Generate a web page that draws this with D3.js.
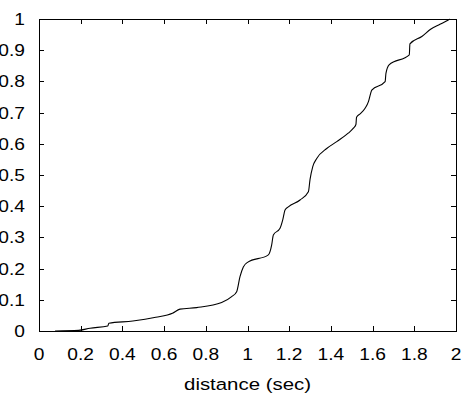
<!DOCTYPE html>
<html><head><meta charset="utf-8">
<script src="https://cdn.jsdelivr.net/npm/d3@7"></script>
<style>
html,body{margin:0;padding:0;background:#fff;}
text{font-family:"Liberation Sans",Arial,Helvetica,sans-serif;font-size:17px;fill:#000;}
</style></head>
<body>
<svg id="c" width="468" height="394"></svg>
<script>
const distance = [0.077,0.19,0.245,0.33,0.335,0.45,0.56,0.64,0.676,0.756,0.876,0.924,0.948,0.964,0.98,1.0,1.1,1.116,1.124,1.156,1.169,1.18,1.196,1.252,1.292,1.3,1.313,1.332,1.38,1.428,1.483,1.508,1.52,1.523,1.54,1.564,1.58,1.59,1.596,1.66,1.664,1.679,1.776,1.779,1.836,1.88,1.923,1.963,1.97];
const fraction = [0,0.002,0.009,0.016,0.025,0.032,0.044,0.057,0.07,0.075,0.091,0.11,0.126,0.174,0.205,0.22,0.244,0.276,0.308,0.329,0.356,0.388,0.398,0.42,0.446,0.486,0.527,0.553,0.585,0.607,0.634,0.65,0.662,0.685,0.696,0.714,0.735,0.76,0.772,0.799,0.826,0.853,0.885,0.92,0.944,0.968,0.983,0.997,1.0];
const xTicks = [0,0.2,0.4,0.6,0.8,1,1.2,1.4,1.6,1.8,2];
const yTicks = [0,0.1,0.2,0.3,0.4,0.5,0.6,0.7,0.8,0.9,1];
const xTitle = "distance (sec)";

const L=39,R=456,T=19,B=331, SX=1.13, SXT=1.2, TL=5;
const svg=d3.select("#c");
const x=d3.scaleLinear().domain([0,2]).range([L,R]);
const y=d3.scaleLinear().domain([0,1]).range([B,T]);
const fmt=d=>String(d);

// ticks (inward, mirrored)
const g=svg.append("g").attr("stroke","#000").attr("stroke-width",1).attr("shape-rendering","crispEdges");
xTicks.forEach(t=>{
  const px=Math.round(x(t))+0.5;
  g.append("line").attr("x1",px).attr("x2",px).attr("y1",B).attr("y2",B-TL);
  g.append("line").attr("x1",px).attr("x2",px).attr("y1",T).attr("y2",T+TL);
});
yTicks.forEach(t=>{
  const py=Math.round(y(t))+0.5;
  g.append("line").attr("x1",L).attr("x2",L+TL).attr("y1",py).attr("y2",py);
  g.append("line").attr("x1",R).attr("x2",R-TL).attr("y1",py).attr("y2",py);
});
g.append("rect").attr("x",L+0.5).attr("y",T+0.5).attr("width",R-L).attr("height",B-T).attr("fill","none");

// labels
xTicks.forEach(t=>{
  svg.append("text").attr("text-anchor","middle")
    .attr("transform",`translate(${x(t)},360) scale(${SX},1)`).text(fmt(t));
});
yTicks.forEach(t=>{
  svg.append("text").attr("text-anchor","end")
    .attr("transform",`translate(25,${y(t)+6}) scale(${SX},1)`).text(fmt(t));
});
svg.append("text").attr("text-anchor","middle")
  .attr("transform",`translate(${(L+R)/2},390) scale(${SXT},1)`).text(xTitle);

// curve
const pts=distance.map((d,i)=>[d,fraction[i]]);
const line=d3.line().x(d=>x(d[0])).y(d=>y(d[1])).curve(d3.curveMonotoneX);
svg.append("path").attr("d",line(pts)).attr("fill","none").attr("stroke","#000").attr("stroke-width",1.1);
</script>
</body></html>
